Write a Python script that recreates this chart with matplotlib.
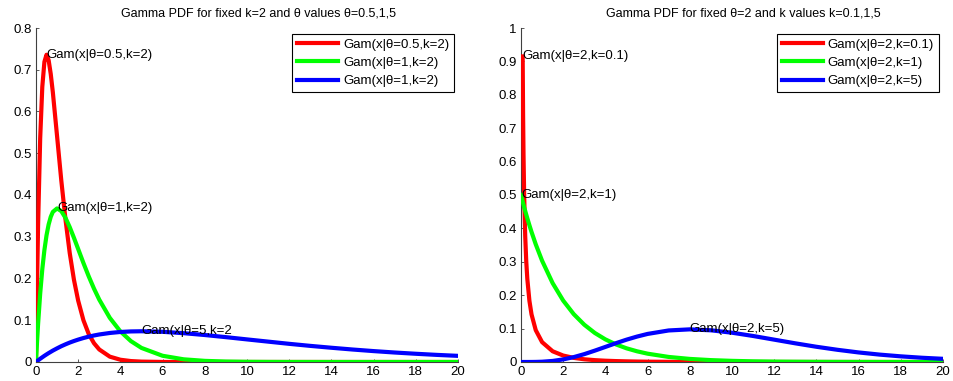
import matplotlib
matplotlib.use("Agg")
import matplotlib.pyplot as plt
import numpy as np

plt.rcParams['font.family'] = ['Liberation Sans', 'DejaVu Sans']
plt.rcParams['font.size'] = 9.5

# Panel 1: fixed k=2, theta = 0.5, 1, 5
x_left = [0, 0.05, 0.1, 0.2, 0.3, 0.4, 0.5, 0.6, 0.7, 0.8, 1.0, 1.2, 1.4, 1.6, 1.8,
          2.0, 2.25, 2.5, 2.75, 3.0, 3.5, 4.0, 4.5, 5, 6, 7, 8, 9, 10, 11, 12, 13,
          14, 15, 16, 17, 18, 19, 20]
pdf_t05 = [0, 0.181, 0.327, 0.536, 0.659, 0.719, 0.736, 0.723, 0.690, 0.646, 0.541,
           0.435, 0.341, 0.261, 0.197, 0.147, 0.100, 0.067, 0.045, 0.030, 0.0128,
           0.0054, 0.0022, 0.0009, 0.0001, 0.00002, 0, 0, 0, 0, 0, 0, 0, 0, 0, 0,
           0, 0, 0]
pdf_t1 = [0, 0.0476, 0.0905, 0.1637, 0.2222, 0.2681, 0.3033, 0.3293, 0.3476, 0.3595,
          0.3679, 0.3614, 0.3452, 0.3230, 0.2975, 0.2707, 0.2371, 0.2052, 0.1758,
          0.1494, 0.1057, 0.0733, 0.0500, 0.0337, 0.0149, 0.0064, 0.0027, 0.0011,
          0.00045, 0.00018, 0.00007, 0.00003, 0.00001, 0, 0, 0, 0, 0, 0]
pdf_t5 = [0, 0.00198, 0.00392, 0.00769, 0.0113, 0.0148, 0.0181, 0.0213, 0.0243,
          0.0273, 0.0327, 0.0378, 0.0423, 0.0465, 0.0502, 0.0536, 0.0574, 0.0607,
          0.0635, 0.0659, 0.0695, 0.0719, 0.0732, 0.0736, 0.0723, 0.0690, 0.0646,
          0.0595, 0.0541, 0.0488, 0.0435, 0.0386, 0.0341, 0.0299, 0.0261, 0.0227,
          0.0197, 0.0170, 0.0147]

# Panel 2: fixed theta=2, k = 0.1, 1, 5 (k=0.1 is infinite at x=0)
x_right = [0, 0.08, 0.1, 0.12, 0.15, 0.2, 0.25, 0.3, 0.4, 0.5, 0.7, 1.0, 1.5, 2,
           2.5, 3, 3.5, 4, 4.5, 5, 5.5, 6, 7, 8, 9, 10, 11, 12, 13, 14, 15, 16,
           17, 18, 19, 20]
pdf_k01 = [np.nan, 0.915, 0.741, 0.623, 0.502, 0.378, 0.301, 0.249, 0.183, 0.1425,
           0.0953, 0.0595, 0.0321, 0.0193, 0.0123, 0.0081, 0.0055, 0.0038, 0.0027,
           0.0019, 0.0013, 0.0009, 0.0005, 0.0002, 0.0001, 0.00006, 0, 0, 0, 0, 0,
           0, 0, 0, 0, 0]
pdf_k1 = [0.5, 0.4804, 0.4756, 0.4709, 0.4630, 0.4524, 0.4412, 0.4304, 0.4094,
          0.3894, 0.3523, 0.3033, 0.2362, 0.1839, 0.1433, 0.1116, 0.0869, 0.0677,
          0.0527, 0.0410, 0.0320, 0.0249, 0.0151, 0.0092, 0.0056, 0.0034, 0.0020,
          0.0012, 0.0008, 0.0005, 0.0003, 0.0002, 0.0001, 0.0001, 0, 0]
pdf_k5 = [0, 0, 0, 0, 0, 0.000002, 0.000005, 0.00001, 0.00003, 0.00006, 0.00022,
          0.00079, 0.0031, 0.0077, 0.0146, 0.0235, 0.0340, 0.0451, 0.0563, 0.0668,
          0.0761, 0.0840, 0.0944, 0.0977, 0.0949, 0.0877, 0.0779, 0.0669, 0.0559,
          0.0456, 0.0365, 0.0286, 0.0221, 0.0169, 0.0127, 0.0095]

left_labels = ['Gam(x|θ=0.5,k=2)', 'Gam(x|θ=1,k=2)', 'Gam(x|θ=1,k=2)']
left_notes = [(0.5, 0.736, 'Gam(x|θ=0.5,k=2)'),
              (1.0, 0.3679, 'Gam(x|θ=1,k=2)'),
              (5.0, 0.0736, 'Gam(x|θ=5,k=2')]
right_labels = ['Gam(x|θ=2,k=0.1)', 'Gam(x|θ=2,k=1)', 'Gam(x|θ=2,k=5)']
right_notes = [(0.08, 0.915, 'Gam(x|θ=2,k=0.1)'),
               (0.0, 0.5, 'Gam(x|θ=2,k=1)'),
               (8.0, 0.0977, 'Gam(x|θ=2,k=5)')]

colors = ['#ff0000', '#00ff00', '#0000ff']

fig = plt.figure(figsize=(9.54, 3.81), dpi=100)
ax1 = fig.add_axes([0.0377, 0.0499, 0.4423, 0.8766])
ax2 = fig.add_axes([0.5461, 0.0499, 0.4423, 0.8766])


def draw_panel(ax, x, series, labels, notes, ymax, yticks, title):
    for y, c, lab in zip(series, colors, labels):
        ax.plot(x, y, color=c, lw=3, label=lab, zorder=3)
    for nx, ny, txt in notes:
        ax.text(nx, ny, txt, ha='left', va='center', fontsize=9.5, zorder=4)
    ax.set_xlim(0, 20)
    ax.set_ylim(0, ymax)
    ax.set_xticks(np.arange(0, 21, 2))
    ax.set_yticks(yticks)
    ax.set_yticklabels([('%g' % t) for t in yticks])
    ax.spines['top'].set_visible(False)
    ax.spines['right'].set_visible(False)
    for s in ('left', 'bottom'):
        ax.spines[s].set_color('#404040')
        ax.spines[s].set_linewidth(0.8)
    ax.tick_params(direction='in', length=2.5, width=0.6, color='#404040',
                   labelsize=9.5, pad=3)
    ax.set_title(title, fontsize=9, x=0.528, pad=8)
    leg = ax.legend(loc='upper right', bbox_to_anchor=(0.99, 0.982),
                    fontsize=9.5, frameon=True, fancybox=False, framealpha=1,
                    edgecolor='black', handlelength=3.1, handletextpad=0.4,
                    labelspacing=0.45, borderpad=0.35, borderaxespad=0)
    leg.get_frame().set_linewidth(0.8)


draw_panel(ax1, x_left, [pdf_t05, pdf_t1, pdf_t5], left_labels, left_notes,
           0.8, [0, 0.1, 0.2, 0.3, 0.4, 0.5, 0.6, 0.7, 0.8],
           'Gamma PDF for fixed k=2 and θ values θ=0.5,1,5')
draw_panel(ax2, x_right, [pdf_k01, pdf_k1, pdf_k5], right_labels, right_notes,
           1.0, [0, 0.1, 0.2, 0.3, 0.4, 0.5, 0.6, 0.7, 0.8, 0.9, 1],
           'Gamma PDF for fixed θ=2 and k values k=0.1,1,5')

fig.savefig('out.png', dpi=100)
